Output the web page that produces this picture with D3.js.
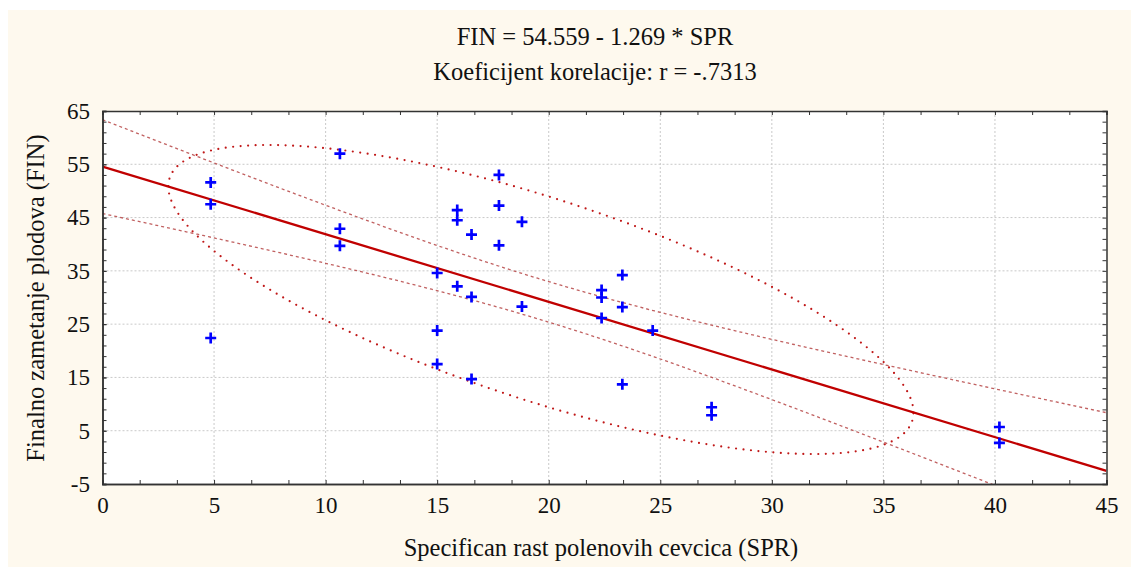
<!DOCTYPE html>
<html>
<head>
<meta charset="utf-8">
<script src="https://cdn.jsdelivr.net/npm/d3@7"></script>
<style>
  html, body { margin: 0; padding: 0; background: #ffffff; }
  svg { display: block; }
  text { font-family: "Liberation Serif", "Times New Roman", serif; fill: #111; }
</style>
</head>
<body>
<script>
// ---- data ----
const sprValues = [4.85, 4.85, 4.85, 10.64, 10.64, 10.64, 15.0, 15.0, 15.0,
  15.9, 15.9, 15.9, 16.54, 16.54, 16.54, 17.77, 17.77, 17.77, 18.8, 18.8,
  22.37, 22.37, 22.37, 23.3, 23.3, 23.3, 24.66, 27.3, 27.3, 40.2, 40.2];
const finValues = [51.6, 47.5, 22.4, 57.0, 42.9, 39.7, 34.6, 23.8, 17.5,
  46.4, 44.5, 32.1, 41.8, 30.1, 14.7, 53.0, 47.25, 39.8, 44.2, 28.3,
  31.4, 30.0, 26.15, 34.2, 28.2, 13.7, 23.8, 9.4, 7.9, 5.7, 2.7];

// regression summary (from the chart title and the drawn bands)
const regIntercept = 54.559;
const regSlope = -1.269;
const corrR = -0.7313;
const nObs = 31;
const meanSPR = 19.65;
const sdSPR = 9.56;
const residSE = 10.35;
const tCrit = 2.045;
const ellipseHalfSpan = [16.7, 29.0];   // half extents of the 95% ellipse (SPR, FIN)

const xTickLabels = [0, 5, 10, 15, 20, 25, 30, 35, 40, 45];
const yTickLabels = [-5, 5, 15, 25, 35, 45, 55, 65];
const titleLines = ["FIN = 54.559 - 1.269 * SPR", "Koeficijent korelacije: r = -.7313"];
const xTitle = "Specifican rast polenovih cevcica (SPR)";
const yTitle = "Finalno zametanje plodova (FIN)";

// ---- layout ----
const W = 1131, H = 567;
const plot = { left: 102.5, right: 1106.5, top: 111, bottom: 484 };
const serif = '"Liberation Serif", "Times New Roman", serif';

const svg = d3.select("body").append("svg").attr("width", W).attr("height", H);

svg.append("rect").attr("x", 8).attr("y", 10).attr("width", W - 8).attr("height", H - 10)
  .attr("fill", "#fef9ee");
svg.append("rect").attr("x", plot.left).attr("y", plot.top)
  .attr("width", plot.right - plot.left).attr("height", plot.bottom - plot.top)
  .attr("fill", "#ffffff");

const x = d3.scaleLinear().domain([0, 45]).range([plot.left, plot.right]);
const y = d3.scaleLinear().domain([-5, 65]).range([plot.bottom, plot.top]);

svg.append("clipPath").attr("id", "clip").append("rect")
  .attr("x", plot.left).attr("y", plot.top)
  .attr("width", plot.right - plot.left).attr("height", plot.bottom - plot.top);

// grid
const gridX = xTickLabels.filter(v => v > 0 && v < 45);
const gridY = yTickLabels.filter(v => v > -5 && v < 65);
const grid = svg.append("g").attr("stroke", "#c9c9c9").attr("stroke-width", 1)
  .attr("stroke-dasharray", "2,2");
grid.selectAll("line.gx").data(gridX).join("line")
  .attr("x1", d => x(d)).attr("x2", d => x(d)).attr("y1", plot.top).attr("y2", plot.bottom);
grid.selectAll("line.gy").data(gridY).join("line")
  .attr("y1", d => y(d)).attr("y2", d => y(d)).attr("x1", plot.left).attr("x2", plot.right);

const g = svg.append("g").attr("clip-path", "url(#clip)");

// regression helpers
const yHat = v => regIntercept + regSlope * v;
const Sxx = (nObs - 1) * sdSPR * sdSPR;
const halfBand = v => tCrit * residSE * Math.sqrt(1 / nObs + (v - meanSPR) * (v - meanSPR) / Sxx);
const xs = d3.range(0, 45.001, 0.25);

const line = d3.line().x(d => x(d[0])).y(d => y(d[1]));

// confidence bands
[1, -1].forEach(sign => {
  g.append("path")
    .attr("d", line(xs.map(v => [v, yHat(v) + sign * halfBand(v)])))
    .attr("fill", "none").attr("stroke", "#b23a3a").attr("stroke-opacity", 0.8)
    .attr("stroke-width", 1.3).attr("stroke-dasharray", "3,3");
});

// ellipse
const cY = yHat(meanSPR);
const rho = Math.sqrt(1 - corrR * corrR);
const ts = d3.range(0, 2 * Math.PI + 0.001, Math.PI / 180);
g.append("path")
  .attr("d", line(ts.map(t => [meanSPR + ellipseHalfSpan[0] * Math.cos(t),
    cY + ellipseHalfSpan[1] * (corrR * Math.cos(t) + rho * Math.sin(t))])))
  .attr("fill", "none").attr("stroke", "#c01818").attr("stroke-width", 2.2)
  .attr("stroke-linecap", "round").attr("stroke-dasharray", "0,7.5");

// regression line
g.append("path")
  .attr("d", line([[0, yHat(0)], [45, yHat(45)]]))
  .attr("fill", "none").attr("stroke", "#c00000").attr("stroke-width", 2.3);

// points
const pts = sprValues.map((v, i) => [v, finValues[i]]);
const s = 5.5;
g.selectAll("path.pt").data(pts).join("path")
  .attr("class", "pt")
  .attr("d", d => `M${x(d[0]) - s},${y(d[1])}H${x(d[0]) + s}M${x(d[0])},${y(d[1]) - s}V${y(d[1]) + s}`)
  .attr("stroke", "#0000ff").attr("stroke-width", 2.7).attr("fill", "none");

// axes
const minorX = d3.range(0, 28).map(i => i * 5 / 3).filter(v => Math.abs(v / 5 - Math.round(v / 5)) > 1e-6);
const minorY = d3.range(0, 36).map(i => -5 + 2 * i);
const tickLen = 4;
const fmt = d => String(d);

function styleAxis(sel) {
  sel.attr("font-family", serif);
  sel.selectAll("path.domain").attr("stroke", "#333").attr("stroke-width", 1.5);
  sel.selectAll(".tick line").attr("stroke", "#333").attr("stroke-width", 1);
  sel.selectAll("text").attr("font-size", 23).attr("fill", "#111")
    .attr("font-family", serif).style("font-family", serif);
}

svg.append("g").attr("transform", `translate(0,${plot.bottom})`)
  .call(d3.axisBottom(x).tickValues(xTickLabels).tickSize(-tickLen).tickPadding(13)
    .tickFormat(fmt))
  .call(styleAxis);
svg.append("g").attr("transform", `translate(0,${plot.bottom})`)
  .call(d3.axisBottom(x).tickValues(minorX).tickSize(-tickLen).tickFormat(""))
  .call(styleAxis);
svg.append("g").attr("transform", `translate(0,${plot.top})`)
  .call(d3.axisTop(x).tickValues(minorX.concat(xTickLabels)).tickSize(-tickLen).tickFormat(""))
  .call(styleAxis);
svg.append("g").attr("transform", `translate(${plot.left},0)`)
  .call(d3.axisLeft(y).tickValues(yTickLabels).tickSize(-tickLen).tickPadding(12.5)
    .tickFormat(fmt))
  .call(styleAxis);
svg.append("g").attr("transform", `translate(${plot.left},0)`)
  .call(d3.axisLeft(y).tickValues(minorY).tickSize(-tickLen).tickFormat(""))
  .call(styleAxis);
svg.append("g").attr("transform", `translate(${plot.right},0)`)
  .call(d3.axisRight(y).tickValues(minorY).tickSize(-tickLen).tickFormat(""))
  .call(styleAxis);

// titles
svg.selectAll("text.title").data(titleLines).join("text")
  .attr("class", "title")
  .attr("x", 595).attr("y", (d, i) => 45 + i * 35)
  .attr("text-anchor", "middle").attr("font-size", 24.5).text(d => d);

svg.append("text").attr("x", 601).attr("y", 556).attr("text-anchor", "middle")
  .attr("font-size", 24.5).text(xTitle);
svg.append("text").attr("transform", "translate(44,298) rotate(-90)")
  .attr("text-anchor", "middle").attr("font-size", 24.5).text(yTitle);
</script>
</body>
</html>
